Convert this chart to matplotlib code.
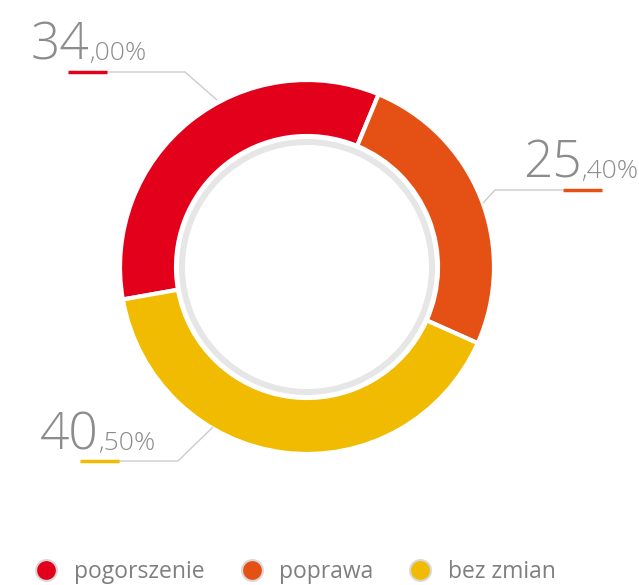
import matplotlib.pyplot as plt
from matplotlib.patches import Wedge
from matplotlib.lines import Line2D

labels = ["pogorszenie", "poprawa", "bez zmian"]
values = [34.00, 25.40, 40.50]
colors = ["#e2001a", "#e55015", "#f0bb00"]

W, H = 639, 585
cx, cy = 307, H - 267
text_grey = "#8c8c8c"
line_grey = "#cccccc"

plt.rcParams['font.family'] = ['Open Sans', 'DejaVu Sans']

fig = plt.figure(figsize=(W / 100, H / 100), dpi=100)
ax = fig.add_axes([0, 0, 1, 1])

ax.pie(values, colors=colors, startangle=190, counterclock=False,
       radius=187, center=(cx, cy),
       wedgeprops=dict(width=56, edgecolor="white", linewidth=3))

# thin grey ring inside the donut
ax.add_patch(Wedge((cx, cy), 128, 0, 360, width=6, color="#e6e6e6", lw=0))

ax.set_xlim(0, W)
ax.set_ylim(0, H)
ax.set_aspect("equal")
ax.axis("off")

renderer = fig.canvas.get_renderer()


def value_label(val, x, y, color, under, leader):
    whole, frac = f"{val:.2f}".split(".")
    big = ax.text(x, y, whole, fontsize=37, color=text_grey, fontweight="light",
                  ha="left", va="baseline")
    bb = big.get_window_extent(renderer)
    ax.text(bb.x1 - 1, y, f",{frac}%", fontsize=19, color=text_grey,
            fontweight="light", ha="left", va="baseline")
    # leader line then coloured underline on top
    lx, ly = zip(*leader)
    ax.plot(lx, ly, color=line_grey, lw=1, solid_capstyle="butt")
    ax.plot(under, [leader[0][1]] * 2, color=color, lw=2.5, solid_capstyle="butt")


value_label(values[0], 31, H - 60, colors[0], (68, 107),
            [(107, H - 72), (185, H - 72), (217, H - 100)])
value_label(values[1], 523, H - 178, colors[1], (563, 602),
            [(563, H - 190), (495, H - 190), (483, H - 203)])
value_label(values[2], 40, H - 450, colors[2], (80, 119),
            [(119, H - 461), (178, H - 461), (213, H - 427)])

handles = [Line2D([], [], marker="o", linestyle="", markersize=15,
                  markerfacecolor=c, markeredgecolor="#d8d8d8", markeredgewidth=1.5)
           for c in colors]
leg = ax.legend(handles, labels, loc="center left", bbox_to_anchor=(35 / W, 1 - 572 / H),
                ncol=3, frameon=False, fontsize=16.5, handletextpad=0.7,
                columnspacing=1.55, handlelength=1.0, borderpad=0, borderaxespad=0)
for t in leg.get_texts():
    t.set_color("#7f7f7f")

fig.savefig("out.png", dpi=100)
